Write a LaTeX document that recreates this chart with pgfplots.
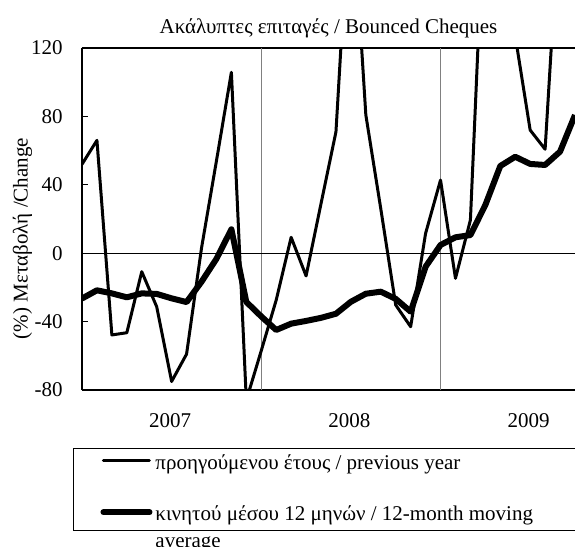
\documentclass[border=0pt]{standalone}
\usepackage{fontspec}
\setmainfont{Liberation Serif}
\usepackage{pgfplots}
\pgfplotsset{compat=1.18}

% month index: 0 = Jan 2007
\pgfplotstableread{
i  prev
0  52
1  66
2  -47.8
3  -46.5
4  -10.8
5  -31.3
6  -75
7  -59
8  3
9  54
10 105.8
11 -86
12 -57
13 -27.4
14 9.3
15 -13.3
16 29
17 71
18 220
19 80.8
20 26
21 -30.3
22 -43
23 11.6
24 42.8
25 -14.7
26 19.4
27 220
28 180
29 127
30 72
31 60.8
32 205
33 160
}\prevyear

\pgfplotstableread{
i  mavg
0  -26.5
1  -21.7
2  -23.5
3  -25.8
4  -23.5
5  -23.8
6  -26.4
7  -28.6
8  -16.7
9  -3.3
10 14
11 -28.5
12 -37
13 -44.9
14 -41.2
15 -39.6
16 -37.8
17 -35.4
18 -28.4
19 -23.7
20 -22.5
21 -26.7
22 -34.2
23 -7.9
24 4.8
25 9.3
26 10.6
27 28.2
28 51
29 56.4
30 52.2
31 51.6
32 59.4
33 80.8
}\movavg

\begin{document}
\fontsize{10.5}{12.6}\selectfont
\begin{tikzpicture}[font=\fontsize{10.5}{12.6}\selectfont]
\begin{axis}[
    scale only axis,
    width=246.5pt, height=171pt,
    xmin=0, xmax=33,
    ymin=-80, ymax=120,
    axis y line*=left,
    axis line style={line width=1.4pt},
    ytick={-80,-40,0,40,80,120},
    tick align=inside,
    major tick length=3pt,
    ytick style={black, line width=0.6pt},
    xtick={5.9,17.9,29.9},
    xticklabels={2007,2008,2009},
    xtick style={draw=none},
    /pgf/number format/assume math mode=true,
    yticklabel style={xshift=-6pt},
    xticklabel style={yshift=-8.2pt},
    extra x ticks={12,24},
    extra x tick labels={},
    extra x tick style={grid=major, major grid style={gray, line width=0.7pt}, major tick length=0pt},
    extra y ticks={0},
    extra y tick labels={},
    extra y tick style={grid=major, major grid style={black, line width=0.6pt}, major tick length=0pt},
    title={Ακάλυπτες επιταγές / Bounced Cheques},
    title style={at={(0.5,1)}, anchor=base, yshift=1.5pt},
    ylabel={(\%) Μεταβολή /Change},
    ylabel style={at={(axis description cs:-0.1207,0.443)}, anchor=center},
    legend image code/.code={\draw[#1, line cap=round] (1.5pt,4.3pt) -- (24.5pt,4.3pt);},
    legend style={at={(axis description cs:-0.0183,-0.1696)}, anchor=north west,
        draw=black, line width=0.5pt, inner xsep=13.5pt, inner ysep=1pt,
        row sep=12.8pt, column sep=0pt,
        cells={anchor=base west},
        nodes={inner xsep=1.5pt, inner ysep=2pt}},
]
\addplot[black, line width=1.5pt, line join=round] table[x=i, y=prev] {\prevyear};
\addlegendentry{προηγούμενου έτους / previous year}
\addplot[black, line width=3pt, line join=round] table[x=i, y=mavg] {\movavg};
\addlegendentry{\parbox[t]{205pt}{\raggedright\baselineskip=13.5pt κινητού μέσου 12 μηνών / 12-month moving average}}
\end{axis}
\pgfresetboundingbox
\useasboundingbox (-41pt,-78.5pt) rectangle (246.5pt,195pt);
\end{tikzpicture}
\end{document}
